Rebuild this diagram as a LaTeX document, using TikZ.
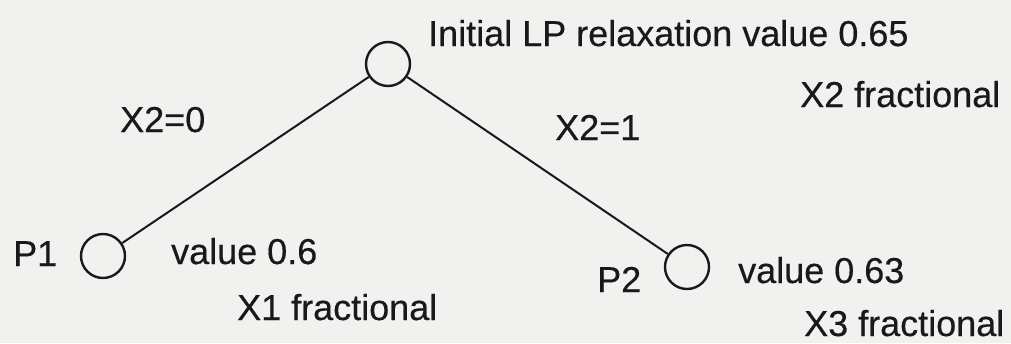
\documentclass[tikz,border=0pt]{standalone}
\usepackage{fontspec}
\setmainfont{Liberation Sans}
\newfontfamily\heavyfont{Liberation Sans}[FakeBold=0.4]
\definecolor{bg}{RGB}{241,241,239}
\definecolor{ink}{RGB}{25,25,25}
\begin{document}
\begin{tikzpicture}[x=1pt,y=-1pt,
  vert/.style={circle,draw=ink,line width=2.4pt,minimum size=44pt,inner sep=0pt},
  edge/.style={draw=ink,line width=2pt},
  lbl/.style={anchor=base west,inner sep=0pt,text=ink,font=\heavyfont\fontsize{36}{40}\selectfont}]
\fill[bg] (0,0) rectangle (1011,343);
\useasboundingbox (0,0) rectangle (1011,343);
\node[vert] (root) at (388,64) {};
\node[vert] (p1) at (103,256) {};
\node[vert] (p2) at (687,267) {};
\draw[edge] (root) -- (p1);
\draw[edge] (root) -- (p2);
\node[lbl] (tinit) at (428,46) {Initial LP relaxation value 0.65};
\node[lbl] (tx2f) at (800,107) {X2 fractional};
\node[lbl] (te0) at (120,132) {X2=0};
\node[lbl] (te1) at (555,140) {X2=1};
\node[lbl] (tp1) at (13,266) {P1};
\node[lbl] (tv1) at (171,264) {value 0.6};
\node[lbl] (tx1) at (237,320) {X1 fractional};
\node[lbl] (tp2) at (597,292) {P2};
\node[lbl] (tv2) at (738,283) {value 0.63};
\node[lbl] (tx3) at (804,336) {X3 fractional};
\end{tikzpicture}
\end{document}
